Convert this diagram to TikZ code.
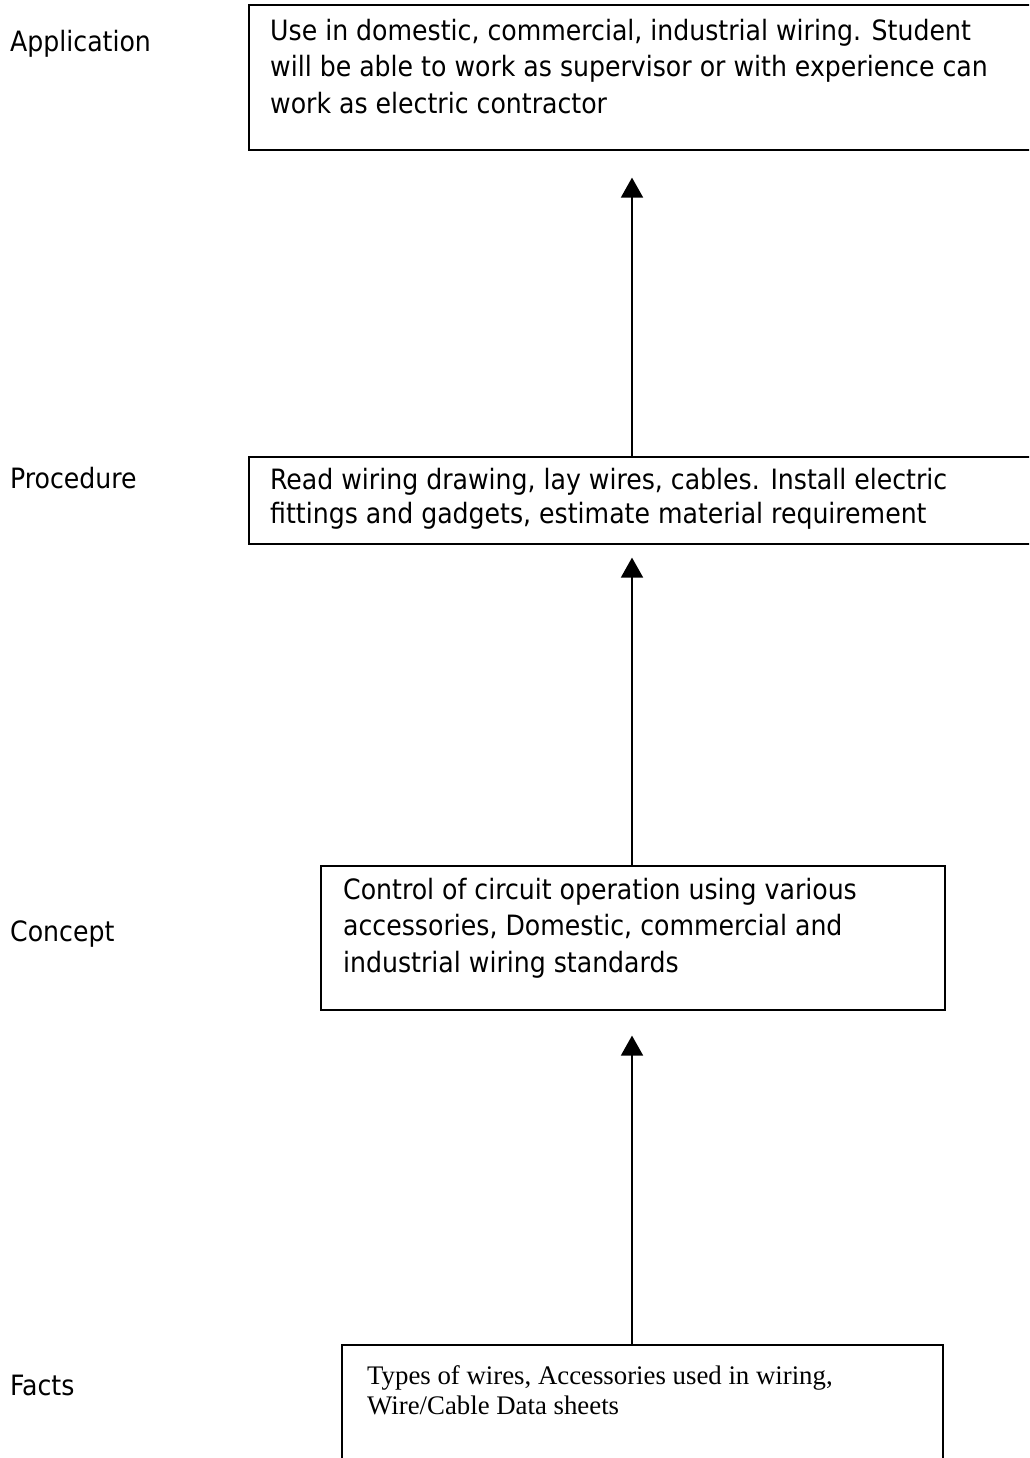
\documentclass[tikz,border=0pt]{standalone}
\usepackage{fontspec}
\setmainfont{DejaVu Sans Condensed}
\newfontfamily\serifface{Liberation Serif}
\usetikzlibrary{arrows.meta}
\begin{document}
\begin{tikzpicture}[x=1pt,y=-1pt,
  box/.style={draw,line width=1.6pt,anchor=north west,inner sep=0pt},
  txt/.style={anchor=north west,inner sep=0pt,align=left,font=\fontsize{28}{36.5}\selectfont},
  lab/.style={anchor=base west,inner sep=0pt,font=\fontsize{28}{33}\selectfont},
  arr/.style={line width=1.8pt,-{Triangle[width=22pt,length=20pt]}}]
\useasboundingbox (0,0) rectangle (1029,1458);
\clip (0,0) rectangle (1029,1458);
% labels
\node[lab] (lapp) at (10,52) {Application};
\node[lab] (lproc) at (10,488) {Procedure};
\node[lab] (lcon) at (10,941) {Concept};
\node[lab] (lfact) at (10,1395) {Facts};
% boxes
\node[box,minimum width=800pt,minimum height=145pt] (app) at (248,4) {};
\node[txt] (tapp) at (270,19) {Use in domestic, commercial, industrial wiring. Student\\will be able to work as supervisor or with experience can\\work as electric contractor};
\node[box,minimum width=800pt,minimum height=87pt] (proc) at (248,456) {};
\node[txt,font=\fontsize{28}{34.5}\selectfont] (tproc) at (270,468) {Read wiring drawing, lay wires, cables. Install electric\\fittings and gadgets, estimate material requirement};
\node[box,minimum width=624pt,minimum height=144pt] (con) at (320,865) {};
\node[txt] (tcon) at (343,878) {Control of circuit operation using various\\accessories, Domestic, commercial and\\industrial wiring standards};
\draw[line width=1.6pt] (342,1470) |- (943,1345) -- (943,1470);
\coordinate (fact) at (632,1345);
\node[txt,font=\serifface\fontsize{26.8}{30}\selectfont] (tfact) at (367,1365) {Types of wires, Accessories used in wiring,\\Wire/Cable Data sheets};
% arrows
\coordinate (ax) at (632,0);
\draw[arr] (proc.north -| ax) -- ([yshift=-27pt]app.south -| ax);
\draw[arr] (con.north -| ax) -- ([yshift=-13pt]proc.south -| ax);
\draw[arr] (fact) -- ([yshift=-25pt]con.south -| ax);
\end{tikzpicture}
\end{document}
